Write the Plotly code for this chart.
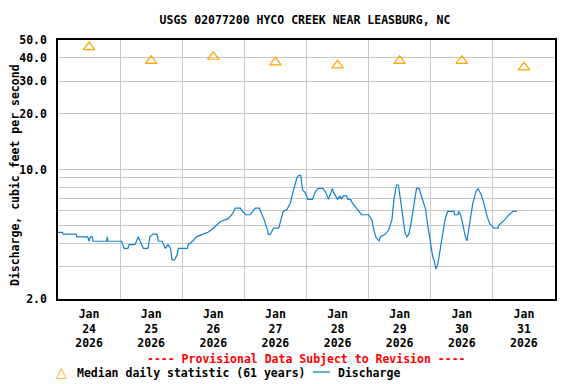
import plotly.graph_objects as go

# ---- data ----
flow_times = [
    "2026-01-24 00:00", "2026-01-24 01:45", "2026-01-24 02:00", "2026-01-24 07:00", "2026-01-24 07:15",
    "2026-01-24 11:30", "2026-01-24 12:00", "2026-01-24 12:30", "2026-01-24 13:15", "2026-01-24 13:30",
    "2026-01-24 18:45", "2026-01-24 19:00", "2026-01-24 19:15",
    "2026-01-25 00:30", "2026-01-25 01:00", "2026-01-25 01:30", "2026-01-25 03:00", "2026-01-25 03:30",
    "2026-01-25 05:45", "2026-01-25 07:00", "2026-01-25 09:00", "2026-01-25 10:45", "2026-01-25 11:30",
    "2026-01-25 12:45", "2026-01-25 14:15", "2026-01-25 14:45", "2026-01-25 16:15", "2026-01-25 17:30",
    "2026-01-25 18:30", "2026-01-25 19:30", "2026-01-25 20:00", "2026-01-25 21:00", "2026-01-25 22:00",
    "2026-01-25 22:30",
    "2026-01-26 02:00", "2026-01-26 02:15", "2026-01-26 04:00", "2026-01-26 05:30", "2026-01-26 08:00",
    "2026-01-26 10:00", "2026-01-26 12:00", "2026-01-26 14:45", "2026-01-26 17:45", "2026-01-26 19:30",
    "2026-01-26 20:30", "2026-01-26 22:30", "2026-01-26 23:15",
    "2026-01-27 00:30", "2026-01-27 02:15", "2026-01-27 04:15", "2026-01-27 05:45", "2026-01-27 07:30",
    "2026-01-27 09:00", "2026-01-27 09:15", "2026-01-27 10:00", "2026-01-27 11:15", "2026-01-27 13:15",
    "2026-01-27 14:00", "2026-01-27 15:00", "2026-01-27 16:30", "2026-01-27 17:45", "2026-01-27 19:00",
    "2026-01-27 20:15", "2026-01-27 21:00", "2026-01-27 21:45", "2026-01-27 22:30", "2026-01-27 23:30",
    "2026-01-28 00:30", "2026-01-28 02:15", "2026-01-28 03:30", "2026-01-28 04:30", "2026-01-28 06:15",
    "2026-01-28 07:30", "2026-01-28 08:30", "2026-01-28 10:00", "2026-01-28 10:30", "2026-01-28 12:00",
    "2026-01-28 13:00", "2026-01-28 13:30", "2026-01-28 14:15", "2026-01-28 15:30", "2026-01-28 16:00",
    "2026-01-28 17:00", "2026-01-28 17:45", "2026-01-28 19:00", "2026-01-28 20:00", "2026-01-28 21:15",
    "2026-01-29 00:00", "2026-01-29 01:15", "2026-01-29 02:00", "2026-01-29 02:45", "2026-01-29 04:00",
    "2026-01-29 04:30", "2026-01-29 06:30", "2026-01-29 07:45", "2026-01-29 09:00", "2026-01-29 09:45",
    "2026-01-29 10:45", "2026-01-29 11:30", "2026-01-29 12:30", "2026-01-29 13:15", "2026-01-29 14:00",
    "2026-01-29 14:45", "2026-01-29 15:30", "2026-01-29 16:15", "2026-01-29 17:30", "2026-01-29 18:30",
    "2026-01-29 19:30", "2026-01-29 21:00", "2026-01-29 22:00", "2026-01-29 22:45", "2026-01-29 23:30",
    "2026-01-30 00:45", "2026-01-30 01:15", "2026-01-30 02:00", "2026-01-30 02:45", "2026-01-30 03:30",
    "2026-01-30 04:30", "2026-01-30 05:30", "2026-01-30 06:30", "2026-01-30 09:00", "2026-01-30 09:15",
    "2026-01-30 10:30", "2026-01-30 10:45", "2026-01-30 11:30", "2026-01-30 12:30", "2026-01-30 13:15",
    "2026-01-30 14:00", "2026-01-30 14:45", "2026-01-30 16:15", "2026-01-30 17:30", "2026-01-30 18:15",
    "2026-01-30 19:30", "2026-01-30 20:30", "2026-01-30 21:45", "2026-01-30 22:45",
    "2026-01-31 00:30", "2026-01-31 02:00", "2026-01-31 02:15", "2026-01-31 04:00", "2026-01-31 05:00",
    "2026-01-31 06:15", "2026-01-31 07:45", "2026-01-31 09:15",
]
flow_values = [
    4.58, 4.58, 4.48, 4.48, 4.33,
    4.33, 4.10, 4.33, 4.33, 4.10,
    4.10, 4.33, 4.10,
    4.10, 3.93, 3.75, 3.75, 3.93,
    3.93, 4.33, 3.75, 3.75, 4.33,
    4.48, 4.48, 4.10, 4.10, 3.75,
    3.93, 3.75, 3.25, 3.25, 3.45,
    3.75,
    3.75, 3.93, 4.10, 4.33, 4.48,
    4.58, 4.82, 5.24, 5.43, 5.80,
    6.18, 6.18, 5.94,
    5.70, 5.70, 6.18, 6.18, 5.43,
    4.67, 4.46, 4.46, 4.82, 4.82,
    5.24, 5.94, 6.10, 6.58, 7.75,
    8.97, 9.30, 9.30, 7.75, 7.50,
    6.90, 6.90, 7.60, 7.90, 7.90,
    7.50, 6.90, 7.90, 7.50, 6.90,
    7.20, 6.90, 7.20, 7.20, 6.90,
    6.90, 6.58, 6.25, 5.94, 5.70,
    5.70, 5.34, 4.73, 4.33, 4.10,
    4.33, 4.48, 4.73, 5.34, 6.85,
    8.25, 8.25, 6.58, 5.34, 4.60,
    4.33, 4.46, 5.00, 6.58, 7.90,
    7.90, 6.85, 6.10, 5.10, 4.30,
    3.39, 3.25, 2.90, 3.10, 3.60,
    4.60, 5.34, 5.94, 5.94, 5.70,
    5.70, 5.94, 5.70, 5.00, 4.40,
    4.12, 4.73, 6.58, 7.60, 7.90,
    7.30, 6.58, 5.60, 5.10,
    4.82, 4.82, 5.00, 5.24, 5.43,
    5.70, 5.94, 5.94,
]

median_times = ["2026-01-24 12:00", "2026-01-25 12:00", "2026-01-26 12:00", "2026-01-27 12:00",
                "2026-01-28 12:00", "2026-01-29 12:00", "2026-01-30 12:00", "2026-01-31 12:00"]
median_values = [45.8, 38.6, 40.6, 37.9, 36.5, 38.6, 38.6, 35.6]

x_tick_labels = ["Jan<br>24<br>2026", "Jan<br>25<br>2026", "Jan<br>26<br>2026", "Jan<br>27<br>2026",
                 "Jan<br>28<br>2026", "Jan<br>29<br>2026", "Jan<br>30<br>2026", "Jan<br>31<br>2026"]
day_bounds = ["2026-01-25", "2026-01-26", "2026-01-27", "2026-01-28",
              "2026-01-29", "2026-01-30", "2026-01-31"]
y_tick_vals = [2, 10, 20, 30, 40, 50]
y_tick_text = ["2.0", "10.0", "20.0", "30.0", "40.0", "50.0"]
y_minor_vals = [3, 4, 5, 6, 7, 8, 9]

MEDIAN_COLOR = "#FFA500"
FLOW_COLOR = "#1180d0"
FONT = "DejaVu Sans Mono"
fnt = dict(family=FONT, size=11.5, color="black", weight="bold")

# The page body has an 8px default margin, so the figure is sized to fit the window.
W, H = 568, 376
PW, PH = 497, 259  # plot area size in pixels


def px_x(x):  # page x pixel -> paper x
    return (x - 58) / PW


def px_y(y):  # page y pixel -> paper y
    return (299 - y) / PH


fig = go.Figure()
fig.add_trace(go.Scatter(
    x=median_times, y=median_values, mode="markers",
    name="Median daily statistic (61 years)", showlegend=False,
    marker=dict(symbol="triangle-up-open", size=10, color=MEDIAN_COLOR, line=dict(width=1.2, color=MEDIAN_COLOR)),
))
fig.add_trace(go.Scatter(
    x=flow_times, y=flow_values, mode="lines", name="Discharge", showlegend=False,
    line=dict(color=FLOW_COLOR, width=1.2),
))

fig.update_layout(
    width=W, height=H,
    margin=dict(l=50, r=21, t=32, b=85, autoexpand=False),
    paper_bgcolor="white", plot_bgcolor="white",
    font=fnt,
    showlegend=False,
    title=dict(text="USGS 02077200 HYCO CREEK NEAR LEASBURG, NC", x=297 / W, xanchor="center",
               y=1 - 12 / H, yanchor="middle", font=fnt),
)

fig.update_xaxes(
    type="date", automargin=False,
    range=["2026-01-24 00:00", "2026-02-01 00:00"],
    tickvals=median_times, ticktext=x_tick_labels, ticks="",
    showgrid=False, zeroline=False,
    showline=True, linecolor="black", linewidth=1.5, mirror=True,
    tickfont=fnt, ticklabelstandoff=3,
    minor=dict(tickvals=day_bounds, showgrid=True, gridcolor="#c8c8c8", gridwidth=1, ticks=""),
)
fig.update_yaxes(
    type="log", automargin=False,
    range=[0.30103, 1.69897],
    tickvals=y_tick_vals, ticktext=y_tick_text, ticks="",
    showgrid=True, gridcolor="#c8c8c8", gridwidth=1, zeroline=False,
    showline=True, linecolor="black", linewidth=1.5, mirror=True,
    tickfont=fnt, ticklabelstandoff=7,
    minor=dict(tickvals=y_minor_vals, showgrid=True, gridcolor="#c8c8c8", gridwidth=1, ticks=""),
)

# y-axis title
fig.add_annotation(
    text="Discharge, cubic feet per second", textangle=-90,
    xref="paper", yref="paper", x=px_x(15), y=px_y(175), xanchor="center", yanchor="middle",
    showarrow=False, font=fnt,
)
fig.add_annotation(
    text="---- Provisional Data Subject to Revision ----",
    xref="paper", yref="paper", x=0.5, y=px_y(359), xanchor="center", yanchor="middle",
    showarrow=False, font=dict(family=FONT, size=11.5, color="red", weight="bold"),
)
# legend row (drawn by hand to match the original's spacing)
fig.add_annotation(
    text="△", xref="paper", yref="paper", x=px_x(61), y=px_y(372), xanchor="center", yanchor="middle",
    showarrow=False, font=dict(family="DejaVu Sans", size=14, color=MEDIAN_COLOR),
)
fig.add_annotation(
    text="Median daily statistic (61 years)", xref="paper", yref="paper",
    x=px_x(75), y=px_y(373), xanchor="left", yanchor="middle", showarrow=False, font=fnt,
)
fig.add_shape(
    type="line", xref="paper", yref="paper", x0=px_x(313), x1=px_x(330), y0=px_y(372), y1=px_y(372),
    line=dict(color=FLOW_COLOR, width=1.3),
)
fig.add_annotation(
    text="Discharge", xref="paper", yref="paper",
    x=px_x(336), y=px_y(373), xanchor="left", yanchor="middle", showarrow=False, font=fnt,
)

fig.write_html("out.html")
